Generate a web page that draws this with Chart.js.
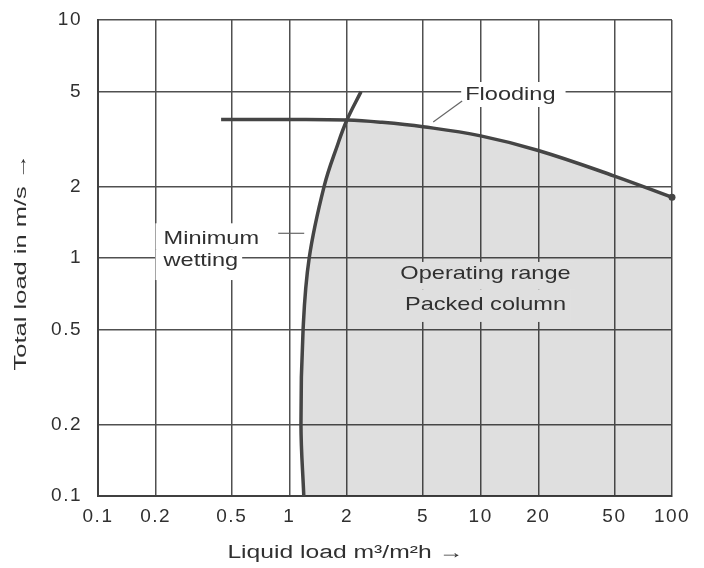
<!DOCTYPE html>
<html>
<head>
<meta charset="utf-8">
<script src="https://cdn.jsdelivr.net/npm/chart.js@4.4.1/dist/chart.umd.min.js"></script>
<style>
  html, body { margin: 0; padding: 0; background: #fff; }
  #wrap { width: 704px; height: 568px; }
</style>
</head>
<body>
<div id="wrap"><canvas id="chart"></canvas></div>
<script>
// flooding limit, left to right
const floodX = [0.44, 1, 2, 3, 5, 10, 20, 50, 100];
const floodY = [3.82, 3.82, 3.8, 3.72, 3.56, 3.26, 2.83, 2.21, 1.8];
// minimum wetting, bottom to top
const wetX = [1.19, 1.15, 1.18, 1.27, 1.52, 1.79, 2.0, 2.37];
const wetY = [0.1, 0.2, 0.5, 1, 2, 3, 3.8, 5];

const xTicks = [0.1, 0.2, 0.5, 1, 2, 5, 10, 20, 50, 100];
const xTickLabels = ['0.1', '0.2', '0.5', '1', '2', '5', '10', '20', '50', '100'];
const yTicks = [0.1, 0.2, 0.5, 1, 2, 5, 10];
const yTickLabels = ['0.1', '0.2', '0.5', '1', '2', '5', '10'];

const xTitle = 'Liquid load m\u00B3/m\u00B2h \u2192';
const yTitle = 'Total load in m/s \u2192';

// where the wetting curve meets the flooding curve
let joinWet = 0, joinFlood = 0;
wetX.forEach((x, i) => {
    const j = floodX.indexOf(x);
    if (j >= 0 && floodY[j] === wetY[i]) { joinWet = i; joinFlood = j; }
});

const fontFamily = "'Liberation Sans', Arial, Helvetica, sans-serif";
const ink = '#303030';
const curveColor = '#454545';
const gridColor = '#505050';
const shade = 'rgba(0,0,0,0.125)';
const shadeSolid = 'rgb(223,223,223)';

// text labels placed in data units
const notes = [
    { lines: ['Flooding'], x: 8.3, y: [4.84], align: 'left', bg: '#fff', pad: [13, 10, 12, 4] },
    { lines: ['Minimum', 'wetting'], x: 0.22, y: [1.21, 0.971], align: 'left', bg: '#fff', pad: [15, 4, 19, 8] },
    { lines: ['Operating range', 'Packed column'], x: 10.6, y: [0.857, 0.635], align: 'center', bg: shadeSolid, pad: [12, 4, 17, 4] }
];
const leaders = [
    { from: [8.0, 4.57], to: [5.65, 3.73] },
    { from: [0.875, 1.27], to: [1.196, 1.27] }
];

const stretch = 1.24;

function drawStretched(ctx, text, x, y, sx, align, rot) {
    ctx.save();
    ctx.translate(x, y);
    if (rot) ctx.rotate(rot);
    ctx.scale(sx, 1);
    ctx.textAlign = align;
    ctx.textBaseline = 'middle';
    ctx.fillText(text, 0, 0);
    ctx.restore();
}

const spacing = {
    id: 'spacing',
    beforeUpdate(chart) { chart.ctx.letterSpacing = '1.5px'; },
    beforeDraw(chart) { chart.ctx.letterSpacing = '1.5px'; }
};

const operatingFill = {
    id: 'operatingFill',
    beforeDatasetsDraw(chart) {
        const flood = chart.getDatasetMeta(0).dataset;
        const wet = chart.getDatasetMeta(1).dataset;
        if (!flood || !wet || !flood.pathSegment) return;
        const area = chart.chartArea;
        flood.updateControlPoints(area, 'x');
        wet.updateControlPoints(area, 'x');
        const ctx = chart.ctx;
        ctx.save();
        ctx.beginPath();
        ctx.rect(area.left, area.top, area.width, area.height);
        ctx.clip();
        ctx.beginPath();
        wet.pathSegment(ctx, { start: 0, end: joinWet, loop: false }, { move: true });
        flood.pathSegment(ctx, { start: joinFlood, end: floodX.length - 1, loop: false }, { move: false });
        ctx.lineTo(chart.scales.x.getPixelForValue(floodX[floodX.length - 1]), chart.scales.y.getPixelForValue(yTicks[0]));
        ctx.closePath();
        ctx.fillStyle = shade;
        ctx.fill();
        ctx.restore();
    }
};

const labels = {
    id: 'labels',
    afterDatasetsDraw(chart) {
        const ctx = chart.ctx;
        const xs = chart.scales.x, ys = chart.scales.y;
        ctx.save();
        ctx.letterSpacing = '0px';
        ctx.font = '19px ' + fontFamily;

        notes.forEach(n => {
            const x = xs.getPixelForValue(n.x);
            const cy = n.y.map(v => ys.getPixelForValue(v));
            const [pt, pr, pb, pl] = n.pad;
            n.lines.forEach((t, i) => {
                const w = ctx.measureText(t).width * stretch;
                const left = n.align === 'left' ? x : x - w / 2;
                const top = i === 0 ? cy[i] - pt : (cy[i - 1] + cy[i]) / 2;
                const bottom = i === cy.length - 1 ? cy[i] + pb : (cy[i] + cy[i + 1]) / 2;
                ctx.fillStyle = n.bg;
                ctx.fillRect(left - pl, top, w + pl + pr, bottom - top);
            });
            ctx.fillStyle = ink;
            n.lines.forEach((t, i) => drawStretched(ctx, t, x, cy[i], stretch, n.align));
        });

        ctx.strokeStyle = '#666';
        ctx.lineWidth = 1.2;
        leaders.forEach(l => {
            ctx.beginPath();
            ctx.moveTo(xs.getPixelForValue(l.from[0]), ys.getPixelForValue(l.from[1]));
            ctx.lineTo(xs.getPixelForValue(l.to[0]), ys.getPixelForValue(l.to[1]));
            ctx.stroke();
        });

        // axis titles
        ctx.fillStyle = ink;
        ctx.font = '17px ' + fontFamily;
        drawStretched(ctx, yTitle, 21, (chart.chartArea.top + chart.chartArea.bottom) / 2 + 4, 1.5, 'center', -Math.PI / 2);
        ctx.font = '18px ' + fontFamily;
        drawStretched(ctx, xTitle, xs.getPixelForValue(1.96), chart.chartArea.bottom + 57, 1.37, 'center');
        ctx.restore();
    }
};

const tickFont = { family: fontFamily, size: 19 };

new Chart(document.getElementById('chart'), {
    type: 'scatter',
    data: {
        datasets: [{
            label: 'Flooding',
            data: floodX.map((x, i) => ({ x: x, y: floodY[i] })),
            showLine: true,
            borderColor: curveColor,
            borderWidth: 3.5,
            tension: 0.4,
            pointRadius: c => c.dataIndex === floodX.length - 1 ? 3.5 : 0,
            pointBackgroundColor: curveColor,
            pointBorderWidth: 0,
            clip: 8
        }, {
            label: 'Minimum wetting',
            data: wetX.map((x, i) => ({ x: x, y: wetY[i] })),
            showLine: true,
            borderColor: curveColor,
            borderWidth: 3.5,
            tension: 0.4,
            pointRadius: 0,
            clip: 8
        }]
    },
    options: {
        responsive: true,
        maintainAspectRatio: false,
        animation: false,
        events: [],
        layout: { padding: { top: 20, right: 32, left: 0, bottom: 0 } },
        plugins: { legend: { display: false }, tooltip: { enabled: false } },
        scales: {
            x: {
                type: 'logarithmic',
                min: 0.1,
                max: 100,
                afterBuildTicks: s => { s.ticks = xTicks.map(v => ({ value: v })); },
                afterFit: s => { s.height = 72; },
                grid: { color: gridColor, lineWidth: 1.5, drawTicks: true, tickLength: 9, tickColor: 'rgba(0,0,0,0)' },
                border: { color: '#404040', width: 2 },
                ticks: {
                    callback: (v, i) => xTickLabels[i],
                    autoSkip: false,
                    maxRotation: 0,
                    padding: 0,
                    color: ink,
                    font: tickFont
                }
            },
            y: {
                type: 'logarithmic',
                min: 0.1,
                max: 10,
                afterBuildTicks: s => { s.ticks = yTicks.map(v => ({ value: v })); },
                afterFit: s => { s.width = 98; },
                grid: { color: gridColor, lineWidth: 1.5, drawTicks: true, tickLength: 16, tickColor: 'rgba(0,0,0,0)' },
                border: { color: '#404040', width: 2 },
                ticks: {
                    callback: (v, i) => yTickLabels[i],
                    autoSkip: false,
                    padding: 0,
                    color: ink,
                    font: tickFont
                }
            }
        }
    },
    plugins: [spacing, operatingFill, labels]
});
</script>
</body>
</html>
